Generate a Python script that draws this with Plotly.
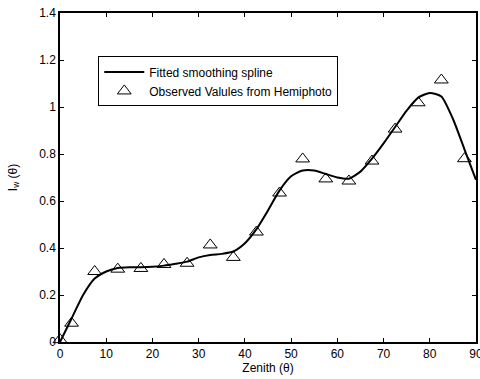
import plotly.graph_objects as go

# Observed leaf-area values by zenith angle (degrees)
obs_zenith = [0, 2.5, 7.5, 12.5, 17.5, 22.5, 27.5, 32.5, 37.5, 42.5,
              47.5, 52.5, 57.5, 62.5, 67.5, 72.5, 77.5, 82.5, 87.5]
obs_values = [0.01, 0.08, 0.30, 0.31, 0.313, 0.33, 0.335, 0.413, 0.36, 0.468,
              0.634, 0.779, 0.694, 0.685, 0.77, 0.906, 1.018, 1.115, 0.78]

# Fitted smoothing spline, sampled every 2.5 degrees
fit_zenith = [0, 2.5, 5, 7.5, 10, 12.5, 15, 17.5, 20, 22.5, 25, 27.5, 30,
              32.5, 35, 37.5, 40, 42.5, 45, 47.5, 50, 52.5, 55, 57.5, 60,
              62.5, 65, 67.5, 70, 72.5, 75, 77.5, 80, 82.5, 85, 87.5, 90]
fit_values = [0.0, 0.10, 0.20, 0.27, 0.30, 0.315, 0.318, 0.318, 0.32, 0.325,
              0.333, 0.342, 0.36, 0.37, 0.375, 0.385, 0.42, 0.48, 0.56, 0.645,
              0.705, 0.73, 0.73, 0.715, 0.70, 0.695, 0.725, 0.78, 0.845, 0.915,
              0.985, 1.04, 1.06, 1.045, 0.95, 0.82, 0.69]

x_ticks = [0, 10, 20, 30, 40, 50, 60, 70, 80, 90]
y_ticks = [0, 0.2, 0.4, 0.6, 0.8, 1.0, 1.2, 1.4]
y_tick_text = ["0", "0.2", "0.4", "0.6", "0.8", "1", "1.2", "1.4"]

font = dict(family="Liberation Sans, Arial, sans-serif", size=12, color="#000000")

fig = go.Figure()
fig.add_trace(go.Scatter(
    x=fit_zenith, y=fit_values, mode="lines", name="Fitted smoothing spline",
    line=dict(color="black", width=2, shape="spline", smoothing=0.6),
))
fig.add_trace(go.Scatter(
    x=obs_zenith, y=obs_values, mode="markers", name="Observed Valules from Hemiphoto",
    marker=dict(symbol="triangle-up-open", size=12, color="black", line=dict(width=1)),
    cliponaxis=False,
))

axis_common = dict(
    showgrid=False, zeroline=False, showline=True, linecolor="black", linewidth=1.5,
    mirror="ticks", ticks="inside", ticklen=4, tickcolor="black", tickwidth=1,
    tickfont=font, automargin=False, ticklabeloverflow="allow",
)

fig.update_layout(
    width=480, height=379,
    margin=dict(l=60, r=4, t=13, b=37),
    paper_bgcolor="white", plot_bgcolor="white",
    font=font,
    xaxis=dict(range=[0, 90], tickvals=x_ticks,
               title=dict(text="Zenith (θ)", font=font, standoff=2), **axis_common),
    yaxis=dict(range=[0, 1.4], tickvals=y_ticks, ticktext=y_tick_text,
               title=dict(text="I<sub>w</sub> (θ)", font=font, standoff=19), **axis_common),
    legend=dict(
        x=0.092, y=0.868, xanchor="left", yanchor="top",
        bgcolor="white", bordercolor="black", borderwidth=1,
        font=font, tracegroupgap=0, itemwidth=40,
    ),
    showlegend=True,
)

fig.write_html("out.html")
